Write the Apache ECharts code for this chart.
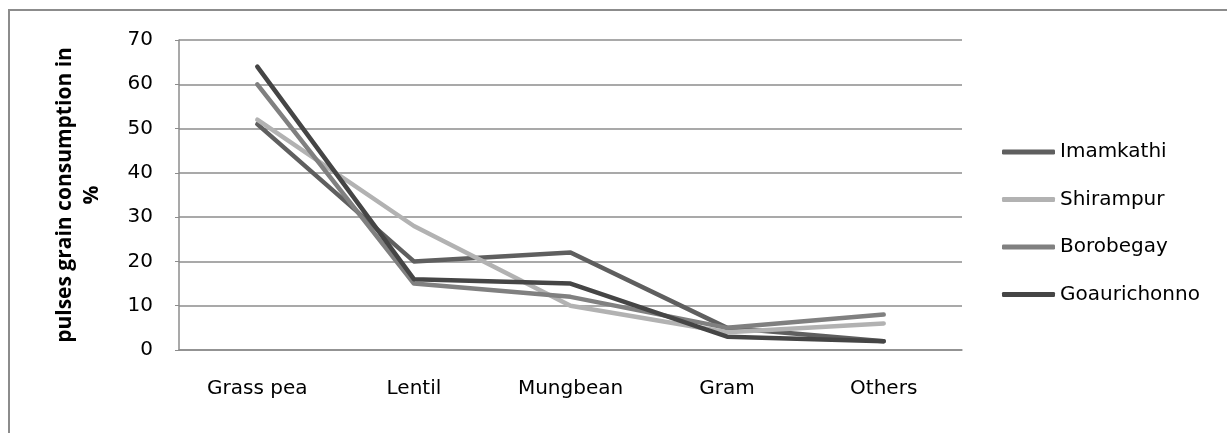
<!DOCTYPE html>
<html>
<head>
<meta charset="utf-8">
<script src="https://cdn.jsdelivr.net/npm/echarts@6/dist/echarts.min.js"></script>
<style>
  html, body { margin: 0; padding: 0; background: #fff; }
  #frame { position: absolute; left: 8px; top: 9px; width: 1219px; height: 430px; border: 2px solid #8c8c8c; border-right: none; border-bottom: none; box-sizing: border-box; }
  #chart { position: absolute; left: 0; top: 0; width: 1230px; height: 433px; }
</style>
</head>
<body>
<div id="frame"></div>
<div id="chart"></div>
<script>
// Pulse types consumed, share of grain consumption (%) per village
const categories = ['Grass pea', 'Lentil', 'Mungbean', 'Gram', 'Others'];
const imamkathi = [51, 20, 22, 5, 2];
const shirampur = [52, 28, 10, 4, 6];
const borobegay = [60, 15, 12, 5, 8];
const goaurichonno = [64, 16, 15, 3, 2];
const yTicks = [0, 10, 20, 30, 40, 50, 60, 70];

const font = 'DejaVu Sans';
const seriesDefs = [
  { name: 'Imamkathi', data: imamkathi, color: '#5f5f5f' },
  { name: 'Shirampur', data: shirampur, color: '#b2b2b2' },
  { name: 'Borobegay', data: borobegay, color: '#808080' },
  { name: 'Goaurichonno', data: goaurichonno, color: '#454545' }
];

const chart = echarts.init(document.getElementById('chart'), null, { renderer: 'canvas' });
chart.setOption({
  animation: false,
  backgroundColor: 'transparent',
  grid: { left: 179, right: 268, top: 40, bottom: 83, containLabel: false },
  legend: {
    orient: 'vertical',
    left: 1002,
    top: 142,
    padding: 0,
    icon: 'roundRect',
    itemWidth: 53,
    itemHeight: 5,
    itemGap: 27.5,
    textStyle: { fontFamily: font, fontSize: 20, color: '#000' },
    data: seriesDefs.map(s => s.name)
  },
  xAxis: {
    type: 'category',
    data: categories,
    boundaryGap: true,
    axisLine: { lineStyle: { color: '#8c8c8c', width: 1.5 } },
    axisTick: { show: false },
    axisLabel: { fontFamily: font, fontSize: 20, color: '#000', margin: 29 }
  },
  yAxis: {
    type: 'value',
    min: yTicks[0],
    max: yTicks[yTicks.length - 1],
    interval: 10,
    name: 'pulses grain consumption in\n%',
    nameLocation: 'middle',
    nameGap: 73,
    nameTextStyle: { fontFamily: 'Open Sans', fontSize: 21, fontWeight: 'bold', color: '#000', lineHeight: 27 },
    axisLine: { show: true, lineStyle: { color: '#8c8c8c', width: 1.5 } },
    axisTick: { show: true, length: 4, lineStyle: { color: '#8c8c8c' } },
    axisLabel: { fontFamily: font, fontSize: 20, color: '#000', margin: 26 },
    splitLine: { lineStyle: { color: '#8c8c8c', width: 1.5 } }
  },
  series: seriesDefs.map(s => ({
    name: s.name,
    type: 'line',
    data: s.data,
    symbol: 'none',
    color: s.color,
    lineStyle: { color: s.color, width: 4.5, cap: 'round', join: 'round' }
  }))
});
</script>
</body>
</html>
